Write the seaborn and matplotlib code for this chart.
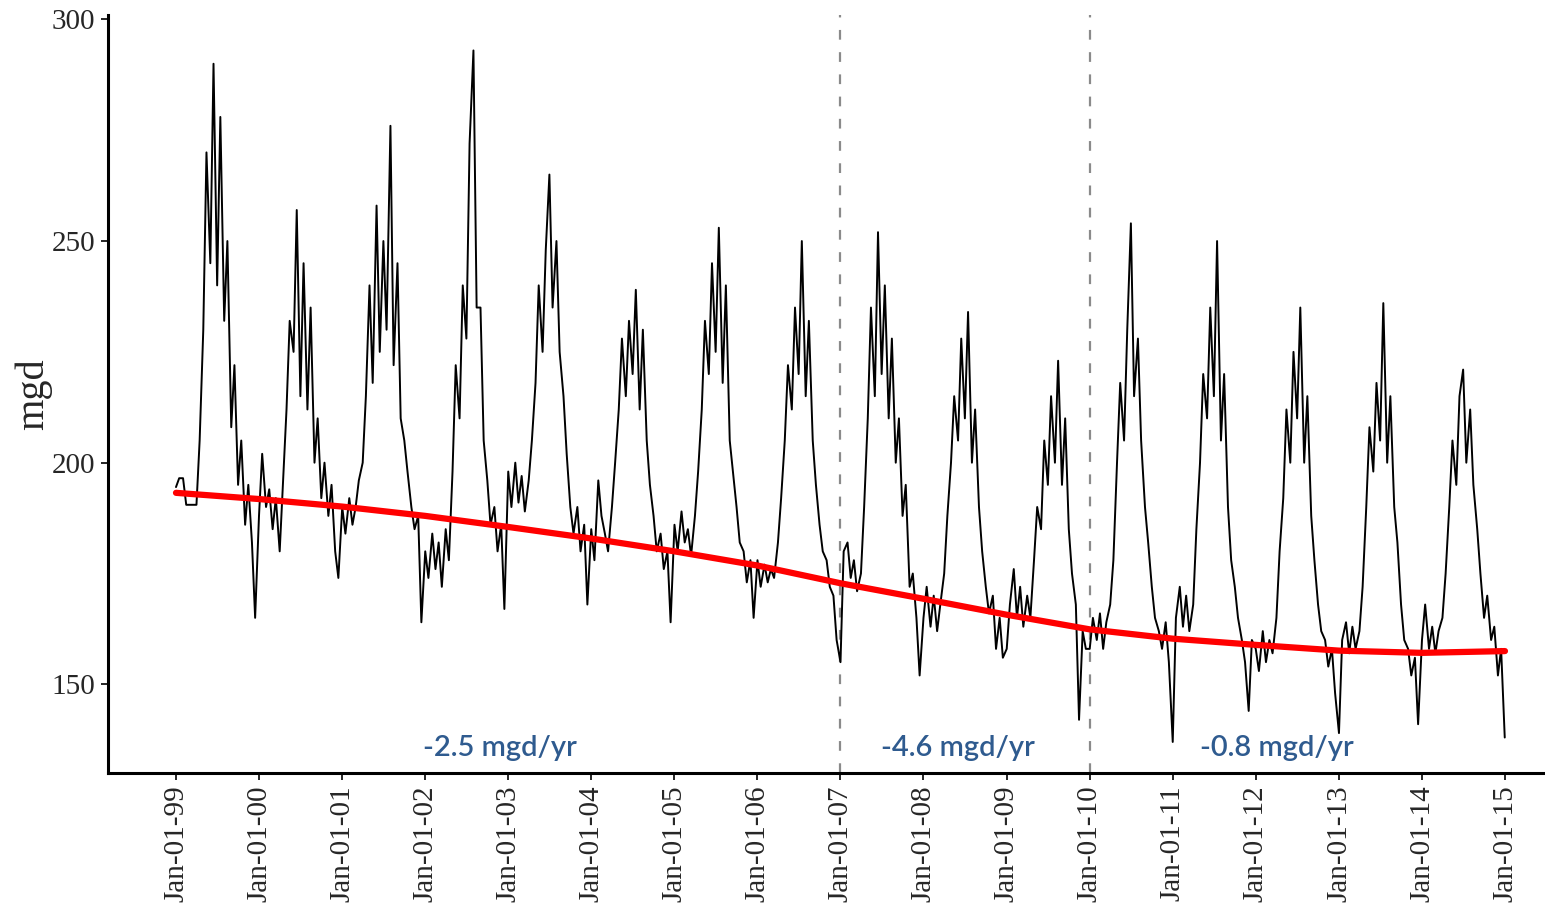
import pandas as pd
import matplotlib
matplotlib.use('Agg')
import matplotlib.pyplot as plt
import matplotlib.dates as mdates
import seaborn as sns

d1999 = [194.5, 196.5, 196.5, 190.5, 190.5, 190.5, 190.5, 205, 230, 270, 245, 290,
         240, 278, 232, 250, 208, 222, 195, 205, 186, 195, 182, 165]
d2000 = [188, 202, 190, 194, 185, 192, 180, 195, 212, 232, 225, 257,
         215, 245, 212, 235, 200, 210, 192, 200, 188, 195, 180, 174]
d2001 = [190, 184, 192, 186, 190, 196, 200, 215, 240, 218, 258, 225,
         250, 230, 276, 222, 245, 210, 205, 198, 190, 185, 188, 164]
d2002 = [180, 174, 184, 176, 182, 172, 185, 178, 198, 222, 210, 240,
         228, 272, 293, 235, 235, 205, 196, 186, 190, 180, 186, 167]
d2003 = [198, 190, 200, 191, 197, 189, 196, 205, 218, 240, 225, 248,
         265, 235, 250, 225, 215, 202, 190, 184, 190, 180, 186, 168]
d2004 = [185, 178, 196, 188, 184, 180, 190, 200, 212, 228, 215, 232,
         220, 239, 212, 230, 205, 195, 188, 180, 184, 176, 180, 164]
d2005 = [186, 180, 189, 182, 185, 179, 188, 198, 212, 232, 220, 245,
         225, 253, 218, 240, 205, 198, 190, 182, 180, 173, 178, 165]
d2006 = [178, 172, 177, 173, 176, 174, 182, 192, 205, 222, 212, 235,
         220, 250, 215, 232, 205, 195, 186, 180, 178, 172, 170, 160]
d2007 = [155, 180, 182, 174, 178, 171, 175, 190, 210, 235, 215, 252,
         220, 240, 210, 228, 200, 210, 188, 195, 172, 175, 165, 152]
d2008 = [165, 172, 163, 170, 162, 168, 175, 188, 200, 215, 205, 228,
         210, 234, 200, 212, 190, 180, 172, 166, 170, 158, 165, 156]
d2009 = [158, 168, 176, 165, 172, 163, 170, 165, 178, 190, 185, 205,
         195, 215, 200, 223, 195, 210, 185, 175, 168, 142, 162, 158]
d2010 = [158, 165, 160, 166, 158, 164, 168, 178, 200, 218, 205, 230,
         254, 215, 228, 205, 190, 182, 172, 165, 162, 158, 164, 155]
d2011 = [137, 165, 172, 163, 170, 162, 168, 185, 200, 220, 210, 235,
         215, 250, 205, 220, 190, 178, 172, 165, 160, 155, 144, 160]
d2012 = [158, 153, 162, 155, 160, 157, 165, 180, 192, 212, 200, 225,
         210, 235, 200, 215, 188, 178, 168, 162, 160, 154, 158, 148]
d2013 = [139, 160, 164, 157, 163, 158, 162, 172, 190, 208, 198, 218,
         205, 236, 200, 215, 190, 182, 168, 160, 158, 152, 156, 141]
d2014 = [160, 168, 158, 163, 157, 162, 165, 175, 190, 205, 195, 215,
         221, 200, 212, 195, 185, 175, 165, 170, 160, 163, 152, 158]
last_day = ['2014-12-31']
last_val = [138]

# smoothed trend (value on Jan 1 of each year)
trend_years = list(range(1999, 2016))
trend_vals = [193.2, 191.8, 190.1, 188.0, 185.5, 182.9, 180.0, 176.8, 172.8,
              169.3, 165.7, 162.4, 160.3, 158.9, 157.6, 157.1, 157.5]

breaks = ['2007-01-01', '2010-01-01']
rate_labels = ['-2.5 mgd/yr', '-4.6 mgd/yr', '-0.8 mgd/yr']
rate_dates = ['2002-11-25', '2008-06-01', '2012-04-05']

yearly = {1999: d1999, 2000: d2000, 2001: d2001, 2002: d2002, 2003: d2003,
          2004: d2004, 2005: d2005, 2006: d2006, 2007: d2007, 2008: d2008,
          2009: d2009, 2010: d2010, 2011: d2011, 2012: d2012, 2013: d2013,
          2014: d2014}
frames = []
for yr, vals in yearly.items():
    dates = pd.date_range(f'{yr}-01-01', periods=24, freq='SMS')
    frames.append(pd.DataFrame({'date': dates, 'mgd': vals}))
frames.append(pd.DataFrame({'date': pd.to_datetime(last_day), 'mgd': last_val}))
df = pd.concat(frames, ignore_index=True)

trend = pd.DataFrame({'date': pd.to_datetime([f'{y}-01-01' for y in trend_years]),
                      'mgd': trend_vals})

sns.set_style('ticks')
plt.rcParams['font.family'] = ['Liberation Serif', 'DejaVu Serif']
plt.rcParams['lines.scale_dashes'] = False

fig, ax = plt.subplots(figsize=(15.45, 9.08), dpi=100)
fig.subplots_adjust(left=0.0699, right=1.0, bottom=0.1487, top=0.9835)

sns.lineplot(data=df, x='date', y='mgd', color='black', lw=1.4, ax=ax)
sns.lineplot(data=trend, x='date', y='mgd', color='red', lw=4.5, ax=ax)

for b in breaks:
    ax.axvline(pd.Timestamp(b), color='#8a8a8a', lw=1.6, dashes=(7, 9), zorder=0)

for lab, d in zip(rate_labels, rate_dates):
    ax.text(pd.Timestamp(d), 135.6, lab, ha='center', va='center',
            color='#2F5B8F', fontsize=21, fontweight='semibold',
            family=['Lato', 'DejaVu Sans'])

ax.set_xlim(pd.Timestamp('1998-03-08'), pd.Timestamp('2015-06-26'))
ax.set_ylim(130, 301)
ax.set_yticks([150, 200, 250, 300])
ax.xaxis.set_major_locator(mdates.YearLocator())
ax.xaxis.set_major_formatter(mdates.DateFormatter('%b-%d-%y'))
plt.setp(ax.get_xticklabels(), rotation=90)

ax.set_xlabel('')
ax.set_ylabel('mgd', fontsize=29, labelpad=0)
ax.tick_params(axis='both', length=5, width=1.2, labelsize=21, pad=4, color='black')

sns.despine(ax=ax)
for s in ['left', 'bottom']:
    ax.spines[s].set_linewidth(2.2)
    ax.spines[s].set_color('black')

fig.savefig('out.png', dpi=100)
